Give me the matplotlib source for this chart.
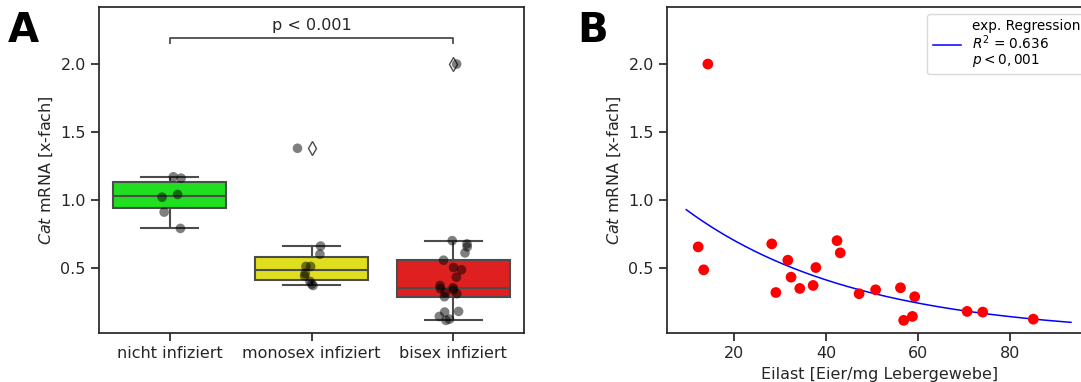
import numpy as np
import matplotlib.pyplot as plt
from matplotlib.lines import Line2D

# =========================
# 1. Data
# =========================

groups = ["nicht infiziert", "monosex infiziert", "bisex infiziert"]
box_colors = ["#20df20", "#dfdf20", "#df2020"]

cat_nicht = [1.17, 1.16, 1.04, 1.02, 0.91, 0.79]
cat_mono = [1.38, 0.66, 0.60, 0.51, 0.51, 0.46, 0.44, 0.40, 0.38, 0.37]

# bisex group: egg load vs. Cat mRNA (same animals in A and B)
eilast = [12.2, 13.4, 14.3, 28.2, 29.1, 31.7, 32.4, 34.3, 37.2, 37.8, 42.4,
          43.1, 47.2, 50.8, 56.2, 56.9, 58.8, 59.3, 70.7, 74.1, 85.1]
cat_bisex = [0.654, 0.485, 2.00, 0.676, 0.318, 0.556, 0.431, 0.348, 0.370, 0.502,
             0.700, 0.610, 0.309, 0.338, 0.353, 0.113, 0.142, 0.287, 0.179, 0.174,
             0.122]

# exponential regression y = a * exp(b * x)
fit_a = 1.20
fit_b = -0.0268
fit_xmin, fit_xmax = 9.6, 93.3
r2_text = "0.636"

ylim = (0.02, 2.42)
yticks = [0.5, 1.0, 1.5, 2.0]
fs = 11.5

# =========================
# 2. Figure layout
# =========================

W, H = 1081, 382
fig = plt.figure(figsize=(W / 100, H / 100), dpi=100)
axA = fig.add_axes([99 / W, 49 / H, 425 / W, 326 / H])
axB = fig.add_axes([667 / W, 49 / H, 426 / W, 326 / H])

gray = "#4c4c4c"

def style_axis(ax):
    for sp in ax.spines.values():
        sp.set_linewidth(1.25)
        sp.set_color("#262626")
    ax.tick_params(length=6, width=1.25, labelsize=fs, color="#262626",
                   labelcolor="#262626")
    ax.set_ylim(*ylim)
    ax.set_yticks(yticks)
    ax.set_ylabel("$\\mathit{Cat}$ mRNA [x-fach]", fontsize=fs, color="#262626")

# =========================
# 3. Panel A: box + strip plot
# =========================

data = [cat_nicht, cat_mono, cat_bisex]
pos = np.arange(len(groups))

bp = axA.boxplot(
    data, positions=pos, widths=0.8, patch_artist=True, whis=1.5,
    boxprops=dict(edgecolor=gray, linewidth=1.5),
    medianprops=dict(color=gray, linewidth=1.5),
    whiskerprops=dict(color=gray, linewidth=1.5),
    capprops=dict(color=gray, linewidth=1.5),
    capwidths=0.4,
    flierprops=dict(marker="d", markerfacecolor="white", markeredgecolor=gray,
                    markersize=7, markeredgewidth=1.0),
    zorder=2,
)
for patch, c in zip(bp["boxes"], box_colors):
    patch.set_facecolor(c)

# jittered points like a strip plot
rng = np.random.default_rng(7)
for i, vals in enumerate(data):
    jit = rng.uniform(-0.1, 0.1, len(vals))
    axA.scatter(pos[i] + jit, vals, s=48, color="black", alpha=0.5,
                edgecolor="none", zorder=3)

axA.set_xlim(-0.5, 2.5)
axA.set_xticks(pos)
axA.set_xticklabels(groups)
style_axis(axA)

# significance bracket
y_br, h_br = 2.19, 0.035
axA.plot([0, 0, 2, 2], [y_br - h_br, y_br, y_br, y_br - h_br], color=gray, lw=1.3)
axA.text(1, y_br + 0.035, "p < 0.001", ha="center", va="bottom", fontsize=fs,
         color="#262626")

# =========================
# 4. Panel B: scatter + exp. regression
# =========================

axB.scatter(eilast, cat_bisex, s=60, color="red", edgecolor="none", zorder=3)
xf = np.linspace(fit_xmin, fit_xmax, 200)
axB.plot(xf, fit_a * np.exp(fit_b * xf), color="blue", lw=1.1, zorder=2)
axB.set_xticks([20, 40, 60, 80])
axB.set_xlabel("Eilast [Eier/mg Lebergewebe]", fontsize=fs, color="#262626")
axB.set_xlim(fit_xmin - 0.05 * (fit_xmax - fit_xmin), fit_xmax + 0.05 * (fit_xmax - fit_xmin) + 0.6)
style_axis(axB)

handle = Line2D([], [], color="blue", lw=1.1)
label = "exp. Regression\n$R^2$ = " + r2_text + "\n$p < 0,001$"
leg = axB.legend([handle], [label], loc="upper right", fontsize=9.8,
                 frameon=True, fancybox=True, edgecolor="#d0d0d0",
                 handlelength=2.1)
for t in leg.get_texts():
    t.set_linespacing(1.0)

# panel letters
fig.text(8 / W, 1 - 42 / H, "A", fontsize=29, fontweight="bold", va="baseline")
fig.text(577 / W, 1 - 42 / H, "B", fontsize=29, fontweight="bold", va="baseline")

fig.savefig("out.png", dpi=100)
